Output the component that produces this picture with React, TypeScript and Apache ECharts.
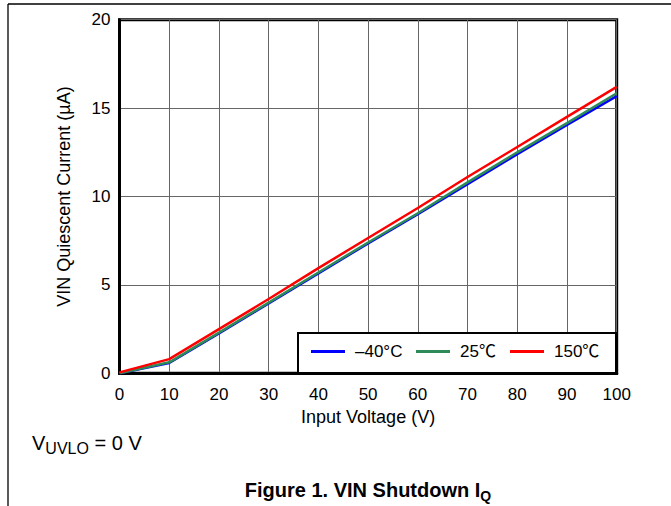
import React, { useEffect, useRef } from "react";
import * as echarts from "echarts";

const xValues = [0, 10, 20, 30, 40, 50, 60, 70, 80, 90, 100];
const seriesNames = ["\u201340\u00b0C", "25\u2103", "150\u2103"];
const seriesColors = ["#0000ff", "#2e8b57", "#ff0000"];
const iqMinus40 = [0, 0.58, 2.25, 3.95, 5.65, 7.35, 9.0, 10.7, 12.4, 14.05, 15.68];
const iq25 = [0, 0.62, 2.3, 4.0, 5.7, 7.4, 9.05, 10.8, 12.5, 14.15, 15.84];
const iq150 = [0.05, 0.8, 2.5, 4.2, 5.95, 7.65, 9.35, 11.1, 12.8, 14.5, 16.2];
const seriesValues = [iqMinus40, iq25, iq150];

const FONT = "'Liberation Sans', Arial, 'Noto Sans CJK SC', sans-serif";

export default function App() {
  const ref = useRef<HTMLDivElement>(null);
  useEffect(() => {
    if (!ref.current) return;
    const chart = echarts.init(ref.current, undefined, { renderer: "svg" });
    const legendLeft = [311, 416, 510];
    chart.setOption({
      animation: false,
      backgroundColor: "#ffffff",
      grid: {
        left: 119.5,
        right: 54.3,
        top: 19.7,
        bottom: 132.7,
        show: true,
        borderColor: "#000",
        borderWidth: 3,
        backgroundColor: "transparent",
      },
      xAxis: {
        type: "value",
        min: 0,
        max: 100,
        interval: 10,
        name: "Input Voltage (V)",
        nameLocation: "middle",
        nameGap: 32,
        nameTextStyle: { fontFamily: FONT, fontSize: 18, color: "#000" },
        axisLine: { show: true, lineStyle: { color: "#000", width: 3 } },
        axisTick: { show: false },
        axisLabel: { fontFamily: FONT, fontSize: 17, color: "#000", margin: 13 },
        splitLine: { show: true, lineStyle: { color: "#666", width: 1 } },
      },
      yAxis: {
        type: "value",
        min: 0,
        max: 20,
        interval: 5,
        name: "VIN Quiescent Current (\u00b5A)",
        nameLocation: "middle",
        nameGap: 47,
        nameTextStyle: { fontFamily: FONT, fontSize: 18, color: "#000" },
        axisLine: { show: true, lineStyle: { color: "#000", width: 3 } },
        axisTick: { show: false },
        axisLabel: { fontFamily: FONT, fontSize: 17, color: "#000", margin: 9 },
        splitLine: { show: true, lineStyle: { color: "#666", width: 1 } },
      },
      legend: seriesNames.map((n, i) => ({
        data: [{ name: n, icon: "rect", itemStyle: { color: seriesColors[i] } }],
        left: legendLeft[i],
        top: 343,
        orient: "horizontal",
        itemWidth: 34,
        itemHeight: 3,
        padding: 0,
        z: 10,
        textStyle: { fontFamily: FONT, fontSize: 17, color: "#000", padding: [0, 0, 0, 5] },
      })),
      graphic: [
        {
          type: "line",
          shape: { x1: 8, y1: 4, x2: 671, y2: 4 },
          style: { stroke: "#000", lineWidth: 1.3 },
        },
        {
          type: "line",
          shape: { x1: 8, y1: 4, x2: 8, y2: 506 },
          style: { stroke: "#000", lineWidth: 1.3 },
        },
        {
          type: "rect",
          z: 5,
          shape: { x: 298, y: 333, width: 318, height: 40 },
          style: { fill: "#fff", stroke: "#000", lineWidth: 2 },
        },
        {
          type: "text",
          x: 32,
          y: 443,
          style: {
            text: "{a|V}{b|UVLO}{a| = 0 V}",
            verticalAlign: "middle",
            textAlign: "left",
            rich: {
              a: { fontFamily: FONT, fontSize: 20, color: "#000", lineHeight: 26, verticalAlign: "middle" },
              b: { fontFamily: FONT, fontSize: 16, color: "#000", lineHeight: 14, verticalAlign: "bottom" },
            },
          },
        },
        {
          type: "text",
          x: 368,
          y: 490,
          style: {
            text: "{a|Figure 1. VIN Shutdown I}{b|Q}",
            verticalAlign: "middle",
            textAlign: "center",
            rich: {
              a: { fontFamily: FONT, fontSize: 20, fontWeight: "bold", color: "#000", lineHeight: 26, verticalAlign: "middle" },
              b: { fontFamily: FONT, fontSize: 14, fontWeight: "bold", color: "#000", lineHeight: 14, verticalAlign: "bottom" },
            },
          },
        },
      ],
      series: seriesNames.map((n, i) => ({
        name: n,
        type: "line",
        symbol: "none",
        showSymbol: false,
        z: 2 + i,
        color: seriesColors[i],
        lineStyle: { color: seriesColors[i], width: 2.5 },
        data: xValues.map((x, j) => [x, seriesValues[i][j]]),
      })),
    });
    return () => chart.dispose();
  }, []);
  return (
    <div
      ref={ref}
      style={{ position: "fixed", left: 0, top: 0, width: 671, height: 506 }}
    />
  );
}
